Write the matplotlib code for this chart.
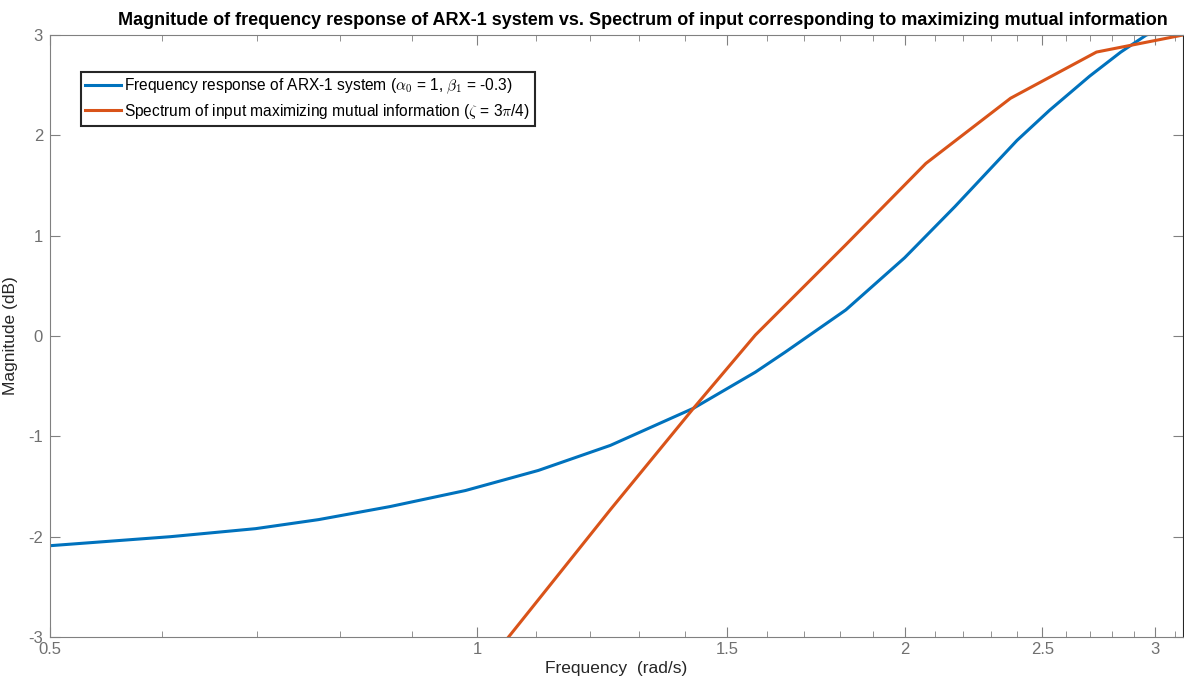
import matplotlib.pyplot as plt
import numpy as np
from matplotlib.ticker import FixedLocator, NullFormatter

plt.rcParams['font.family'] = ['Liberation Sans', 'DejaVu Sans']
plt.rcParams['mathtext.fontset'] = 'cm'
plt.rcParams['axes.unicode_minus'] = False

# ARX-1 frequency response
w_sys = [0.5, 0.608, 0.698, 0.773, 0.868, 0.981, 1.104, 1.241, 1.42, 1.57,
         1.648, 1.818, 2.0, 2.17, 2.40, 2.53, 2.70, 2.84, 2.96, 3.1416]
mag_sys = [-2.09, -2.00, -1.92, -1.83, -1.70, -1.54, -1.34, -1.09, -0.72, -0.36,
           -0.16, 0.26, 0.78, 1.29, 1.95, 2.25, 2.59, 2.83, 3.00, 3.10]

# spectrum of input maximizing mutual information
w_in = [1.0, 1.052, 1.241, 1.42, 1.57, 1.818, 2.07, 2.375, 2.73, 3.1416]
mag_in = [-3.38, -3.00, -1.73, -0.72, 0.01, 0.91, 1.72, 2.37, 2.83, 3.00]

xticks = [0.5, 1, 1.5, 2, 2.5, 3]
xminor = [0.6, 0.7, 0.8, 0.9, 1.1, 1.2, 1.3, 1.4, 1.6, 1.7, 1.8, 1.9,
          2.1, 2.2, 2.3, 2.4, 2.6, 2.7, 2.8, 2.9, 3.1]
yticks = [-3, -2, -1, 0, 1, 2, 3]

fig = plt.figure(figsize=(11.84, 6.81), dpi=100)
ax = fig.add_axes([0.0422, 0.0646, 0.957, 0.884])

ax.plot(w_sys, mag_sys, color='#0072BD', lw=2.2,
        label=r'Frequency response of ARX-1 system ($\alpha_0$ = 1, $\beta_1$ = -0.3)')
ax.plot(w_in, mag_in, color='#D95319', lw=2.2,
        label=r'Spectrum of input maximizing mutual information ($\zeta$ = 3$\pi$/4)')

ax.set_xscale('log')
ax.set_xlim(0.5, np.pi)
ax.set_ylim(-3, 3)
ax.xaxis.set_major_locator(FixedLocator(xticks))
ax.set_xticklabels([str(t) for t in xticks])
ax.xaxis.set_minor_locator(FixedLocator(xminor))
ax.xaxis.set_minor_formatter(NullFormatter())
ax.set_yticks(yticks)

gray = '#262626'
for s in ax.spines.values():
    s.set_color('#808080')
    s.set_linewidth(0.8)
ax.spines['right'].set_color('#262626')
ax.tick_params(which='both', direction='in', top=True, right=True,
               colors='#808080', labelcolor='#707070', labelsize=12)
ax.tick_params(which='major', length=7)
ax.tick_params(which='minor', length=4)
ax.tick_params(axis='y', pad=5)

ax.set_xlabel('Frequency  (rad/s)', fontsize=12.5, color=gray, labelpad=3)
ax.set_ylabel('Magnitude (dB)', fontsize=12.5, color=gray, labelpad=7)
ax.set_title('Magnitude of frequency response of ARX-1 system vs. Spectrum of input '
             'corresponding to maximizing mutual information',
             fontsize=13, fontweight='bold', pad=7, x=0.523)

leg = ax.legend(loc='upper left', bbox_to_anchor=(0.027, 0.938), fontsize=11.2,
                fancybox=False, framealpha=1, edgecolor='#262626',
                handlelength=2.3, handletextpad=0.2, borderpad=0.3,
                labelspacing=0.35, borderaxespad=0)
leg.get_frame().set_linewidth(1.5)

fig.savefig('out.png', dpi=100)
